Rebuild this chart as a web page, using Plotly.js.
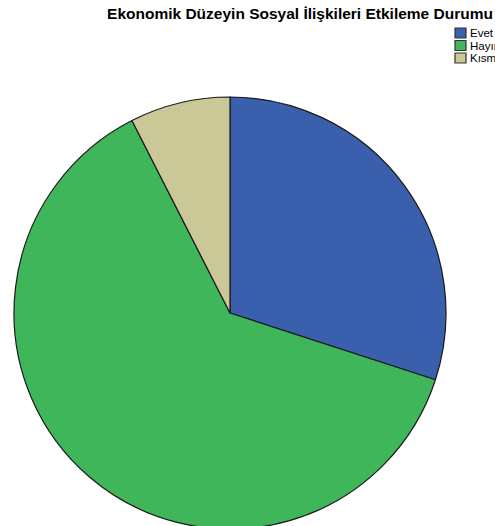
<!DOCTYPE html>
<html>
<head>
<meta charset="utf-8">
<script src="https://cdn.plot.ly/plotly-3.0.1.min.js"></script>
<style>html,body{margin:0;padding:0;background:#fff;overflow:hidden}#wrap{width:495px;height:526px;overflow:hidden}</style>
</head>
<body>
<div id="wrap"><div id="chart"></div></div>
<script>
const categories = ["Evet", "Hayır", "Kısmen"];
const values = [30, 62.5, 7.5];
const colors = ["#3A5FAD", "#40B65A", "#C9C896"];

const W = 495, H = 529;
const px = x => x / W;
const py = y => 1 - y / H;

const data = [{
  type: "pie",
  labels: categories,
  values: values,
  sort: false,
  direction: "clockwise",
  rotation: 0,
  textinfo: "none",
  hoverinfo: "none",
  showlegend: false,
  marker: {colors: colors, line: {color: "#1a1a1a", width: 1.2}},
  domain: {x: [px(14), px(446)], y: [0, py(97)]}
}];

// Custom legend (matches the reference's compact layout)
const shapes = [];
const annotations = [];
categories.forEach((c, i) => {
  const top = 28 + i * 12.5;
  shapes.push({
    type: "rect", xref: "paper", yref: "paper",
    x0: px(455), x1: px(466), y0: py(top + 10), y1: py(top),
    fillcolor: colors[i], line: {color: "#333", width: 1.2}
  });
  annotations.push({
    xref: "paper", yref: "paper", x: px(467.5), y: py(top + 5),
    xanchor: "left", yanchor: "middle", showarrow: false,
    text: c, font: {size: 11.5, family: "Liberation Sans, Arial, sans-serif", color: "#000"}
  });
});

const layout = {
  width: W, height: H,
  margin: {l: 0, r: 0, t: 0, b: 0, autoexpand: false},
  paper_bgcolor: "#fff",
  font: {family: "Liberation Sans, Arial, sans-serif", color: "#000"},
  title: {
    text: "<b>Ekonomik Düzeyin Sosyal İlişkileri Etkileme Durumu</b>",
    font: {size: 15.5, family: "Liberation Sans, Arial, sans-serif", color: "#000"},
    x: px(300), xanchor: "center", y: py(13.5), yanchor: "middle"
  },
  showlegend: false,
  shapes: shapes,
  annotations: annotations
};

Plotly.newPlot("chart", data, layout, {staticPlot: true});
</script>
</body>
</html>
